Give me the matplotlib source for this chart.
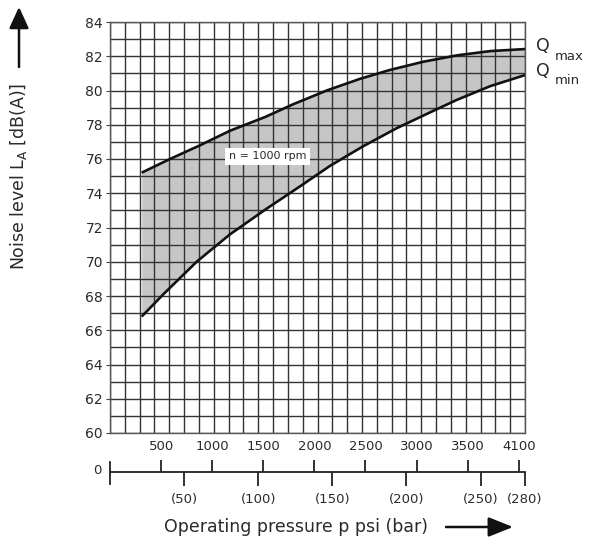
import matplotlib
matplotlib.use("Agg")
import matplotlib.pyplot as plt
import matplotlib.patches as mpatches
import numpy as np
from matplotlib.ticker import MultipleLocator, FixedLocator

plt.rcParams['font.family'] = ['DejaVu Sans']
plt.rcParams['mathtext.default'] = 'regular'

PSI_PER_BAR = 14.5038

# Data (psi, dB(A))
qmax_psi = [310, 587, 881, 1174, 1517, 1794, 2121, 2446, 2740, 3066, 3393, 3719, 4061]
qmax_db = [75.2, 76.0, 76.8, 77.65, 78.45, 79.2, 80.0, 80.68, 81.2, 81.68, 82.05, 82.3, 82.42]
qmin_psi = [310, 522, 848, 1174, 1533, 1859, 2153, 2479, 2806, 3131, 3393, 3719, 4061]
qmin_db = [66.8, 68.1, 70.0, 71.6, 73.1, 74.4, 75.6, 76.75, 77.8, 78.72, 79.45, 80.25, 80.9]

y_ticks = list(range(60, 85, 2))
psi_tick_pos = [500, 1000, 1500, 2000, 2500, 3000, 3500, 4000]
psi_tick_labels = ["500", "1000", "1500", "2000", "2500", "3000", "3500", "4100"]
bar_ticks = [50, 100, 150, 200, 250, 280]
bar_tick_labels = ["(50)", "(100)", "(150)", "(200)", "(250)", "(280)"]
x_max_bar = 280

W, H = 589, 543
fig = plt.figure(figsize=(W / 100, H / 100), dpi=100)

def fx(px):
    return px / W

def fy(py):
    return 1 - py / H

TXT = '#2a2a2a'
L, R, T, B = 110, 525, 22, 433
ax = fig.add_axes([fx(L), fy(B), fx(R) - fx(L), fy(T) - fy(B)])
xmax = x_max_bar * PSI_PER_BAR
ax.set_xlim(0, xmax)
ax.set_ylim(60, 84)

# grid: every 10 bar horizontally, every 1 dB vertically
ax.xaxis.set_minor_locator(MultipleLocator(10 * PSI_PER_BAR))
ax.yaxis.set_minor_locator(MultipleLocator(1))
ax.grid(which='both', axis='both', color='#333333', lw=1.0, zorder=1)
ax.set_axisbelow(True)
ax.set_xticks([])
ax.tick_params(axis='x', which='both', bottom=False, labelbottom=False)
ax.set_yticks(y_ticks)
ax.tick_params(axis='y', which='major', length=3, width=0.8, color='#444444',
               labelsize=10, labelcolor=TXT, pad=2)
ax.tick_params(axis='y', which='minor', length=0)
for s in ax.spines.values():
    s.set_color('#555555')
    s.set_linewidth(1.0)

# fill between curves
xs = np.array(qmax_psi, float)
qmin_at = np.interp(xs, qmin_psi, qmin_db)
ax.fill_between(xs, qmin_at, qmax_db, color='#c6c6c6', zorder=0.5, lw=0)
ax.plot(qmax_psi, qmax_db, color='#111111', lw=1.9, zorder=3, solid_capstyle='butt')
ax.plot(qmin_psi, qmin_db, color='#111111', lw=1.9, zorder=3, solid_capstyle='butt')

ax.text(1540, 76.15, "n = 1000 rpm", fontsize=8, ha='center', va='center',
        color=TXT, zorder=4,
        bbox=dict(boxstyle='square,pad=0.35', fc='white', ec='none'))

# Q labels
fig.text(fx(536), fy(46), "Q", fontsize=12.5, ha='left', va='center', color=TXT)
fig.text(fx(555), fy(56), "max", fontsize=9.5, ha='left', va='center', color=TXT)
fig.text(fx(536), fy(71), "Q", fontsize=12.5, ha='left', va='center', color=TXT)
fig.text(fx(555), fy(81), "min", fontsize=9.5, ha='left', va='center', color=TXT)

# pressure scale axis
yl = 472
ax2 = fig.add_axes([fx(L), fy(yl), fx(R) - fx(L), 0.0001])
ax2.set_xlim(0, xmax)
ax2.set_ylim(0, 1)
ax2.patch.set_visible(False)
for k in ['left', 'right', 'bottom']:
    ax2.spines[k].set_visible(False)
ax2.spines['top'].set_color('#222222')
ax2.spines['top'].set_linewidth(1.3)
ax2.set_yticks([])
ax2.xaxis.set_ticks_position('top')
ax2.xaxis.set_major_locator(FixedLocator(psi_tick_pos))
ax2.set_xticklabels(psi_tick_labels)
ax2.tick_params(axis='x', which='major', direction='out', length=9, width=1.3,
                color='#222222', labelsize=9.5, labelcolor=TXT, pad=5,
                top=True, labeltop=True, bottom=False, labelbottom=False)
bar_ax = ax2.secondary_xaxis('bottom', functions=(lambda p: p / PSI_PER_BAR,
                                                    lambda b: b * PSI_PER_BAR))
bar_ax.set_xticks(bar_ticks)
bar_ax.set_xticklabels(bar_tick_labels)
bar_ax.tick_params(axis='x', direction='out', length=10, width=1.3, color='#222222',
                   labelsize=9.5, labelcolor=TXT, pad=5)
bar_ax.spines['bottom'].set_visible(False)
fig.add_artist(plt.Line2D([fx(L), fx(L)], [fy(yl - 10), fy(yl + 12)],
                          color='#222222', lw=1.3))
fig.text(fx(97), fy(yl - 1), "0", fontsize=9.5, ha='center', va='center', color=TXT)

# axis titles with arrows
fig.text(fx(296), fy(527), "Operating pressure p psi (bar)", fontsize=12.5,
         ha='center', va='center', color=TXT)
fig.add_artist(mpatches.FancyArrowPatch(
    (fx(446), fy(527)), (fx(513), fy(527)), transform=fig.transFigure,
    arrowstyle='-|>,head_length=15,head_width=6', color='#111111', lw=1.8,
    shrinkA=0, shrinkB=0))
fig.text(fx(19), fy(176), "Noise level L$_A$ [dB(A)]", fontsize=12.5, rotation=90,
         ha='center', va='center', color=TXT)
fig.add_artist(mpatches.FancyArrowPatch(
    (fx(19), fy(67)), (fx(19), fy(7)), transform=fig.transFigure,
    arrowstyle='-|>,head_length=13,head_width=6', color='#111111', lw=1.8,
    shrinkA=0, shrinkB=0))

fig.savefig("out.png", dpi=100)
